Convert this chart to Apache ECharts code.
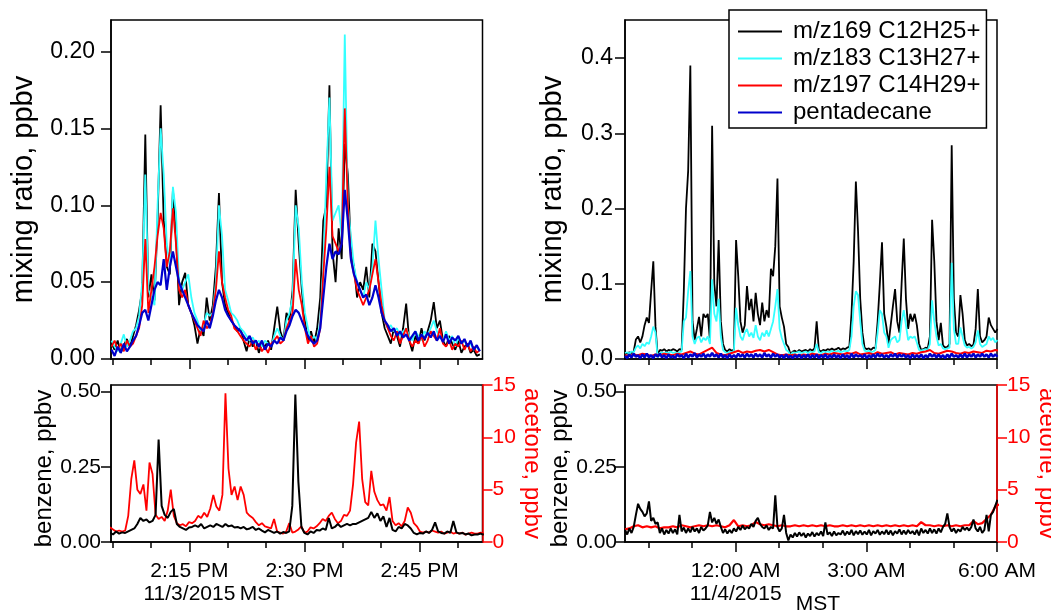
<!DOCTYPE html>
<html><head><meta charset="utf-8">
<script src="https://cdn.jsdelivr.net/npm/echarts@6/dist/echarts.min.js"></script>
<style>html,body{margin:0;padding:0;background:#fff}#c{width:1051px;height:614px}</style>
</head><body><div id="c"></div>
<script>
const FONT = '"Liberation Sans", Arial, Helvetica, sans-serif';
const seriesNames = ['m/z169 C12H25+', 'm/z183 C13H27+', 'm/z197 C14H29+', 'pentadecane'];
const seriesColors = ['#000000', '#33ffff', '#ff0000', '#0000cc'];

// ---------- left panels: minutes after 2:00 PM, 11/3/2015 ----------
const leftStart = 4.85, leftStep = 0.4;
const leftC12 = [
0.010,0.006,0.012,0.004,0.009,0.013,0.008,0.015,0.022,0.032,
0.045,0.146,0.040,0.055,0.038,0.090,0.165,0.090,0.060,0.055,
0.110,0.080,0.035,0.050,0.056,0.035,0.030,0.022,0.010,0.020,
0.015,0.040,0.025,0.035,0.060,0.108,0.050,0.035,0.030,0.025,
0.022,0.018,0.020,0.012,0.005,0.014,0.008,0.012,0.004,0.010,
0.008,0.012,0.006,0.020,0.034,0.018,0.012,0.030,0.025,0.045,
0.110,0.075,0.045,0.025,0.012,0.018,0.010,0.020,0.040,0.090,
0.100,0.178,0.070,0.050,0.085,0.065,0.140,0.120,0.070,0.060,
0.040,0.050,0.045,0.060,0.040,0.075,0.070,0.050,0.030,0.020,
0.015,0.010,0.020,0.015,0.008,0.020,0.036,0.012,0.005,0.015,
0.010,0.020,0.012,0.018,0.025,0.037,0.020,0.025,0.012,0.008,
0.015,0.010,0.006,0.012,0.004,0.008,0.010,0.004,0.006,0.002,0.003];
const leftC13 = [
0.012,0.008,0.005,0.010,0.016,0.008,0.012,0.018,0.020,0.028,
0.050,0.120,0.045,0.040,0.035,0.100,0.150,0.120,0.075,0.060,
0.112,0.095,0.050,0.045,0.050,0.055,0.040,0.030,0.025,0.018,
0.022,0.030,0.028,0.030,0.050,0.100,0.080,0.045,0.038,0.030,
0.028,0.025,0.020,0.018,0.015,0.012,0.014,0.010,0.012,0.008,
0.012,0.010,0.008,0.015,0.020,0.015,0.012,0.025,0.030,0.040,
0.100,0.085,0.050,0.030,0.020,0.012,0.015,0.012,0.025,0.060,
0.120,0.170,0.090,0.095,0.100,0.080,0.211,0.100,0.080,0.060,
0.050,0.045,0.040,0.050,0.045,0.060,0.090,0.065,0.045,0.025,
0.020,0.022,0.018,0.020,0.015,0.018,0.020,0.015,0.012,0.018,
0.015,0.012,0.018,0.015,0.020,0.025,0.018,0.015,0.012,0.018,
0.012,0.015,0.008,0.014,0.010,0.012,0.008,0.010,0.006,0.008,0.005];
const leftC14 = [
0.008,0.012,0.006,0.010,0.005,0.012,0.008,0.010,0.015,0.020,
0.035,0.078,0.030,0.045,0.060,0.080,0.095,0.085,0.060,0.070,
0.098,0.075,0.045,0.040,0.045,0.035,0.030,0.025,0.020,0.015,
0.025,0.020,0.022,0.030,0.045,0.070,0.050,0.040,0.032,0.028,
0.020,0.018,0.015,0.012,0.010,0.008,0.012,0.006,0.010,0.005,
0.008,0.004,0.010,0.012,0.015,0.010,0.012,0.020,0.025,0.030,
0.065,0.045,0.035,0.020,0.010,0.015,0.008,0.010,0.020,0.055,
0.085,0.125,0.080,0.075,0.070,0.075,0.163,0.100,0.065,0.055,
0.045,0.040,0.035,0.040,0.045,0.055,0.065,0.050,0.035,0.025,
0.020,0.015,0.012,0.018,0.010,0.015,0.020,0.012,0.008,0.012,
0.010,0.015,0.008,0.012,0.018,0.015,0.012,0.020,0.010,0.008,
0.012,0.006,0.010,0.008,0.012,0.006,0.010,0.005,0.008,0.004,0.006];
const leftPenta = [
0.006,0.002,0.008,0.004,0.010,0.005,0.008,0.012,0.015,0.022,
0.030,0.032,0.025,0.035,0.045,0.050,0.048,0.065,0.045,0.060,
0.070,0.060,0.050,0.045,0.040,0.035,0.030,0.026,0.022,0.020,
0.018,0.025,0.020,0.028,0.038,0.045,0.040,0.032,0.028,0.025,
0.022,0.020,0.018,0.015,0.012,0.015,0.010,0.012,0.008,0.012,
0.006,0.010,0.008,0.012,0.010,0.014,0.012,0.018,0.022,0.028,
0.032,0.030,0.025,0.020,0.015,0.012,0.010,0.012,0.020,0.040,
0.060,0.075,0.065,0.070,0.068,0.075,0.110,0.090,0.065,0.055,
0.050,0.045,0.040,0.042,0.035,0.040,0.048,0.040,0.030,0.025,
0.022,0.018,0.020,0.015,0.018,0.014,0.016,0.012,0.015,0.018,
0.012,0.016,0.013,0.017,0.014,0.018,0.012,0.015,0.011,0.016,
0.010,0.014,0.012,0.015,0.010,0.013,0.008,0.012,0.006,0.009,0.005];

const benzLeftStart = 4.65, benzLeftStep = 0.396;
const benzeneLeft = [
0.030,0.025,0.035,0.028,0.032,0.030,0.035,0.040,0.045,0.060,
0.080,0.070,0.075,0.065,0.070,0.090,0.340,0.120,0.090,0.080,
0.100,0.110,0.060,0.050,0.045,0.040,0.048,0.050,0.055,0.050,
0.060,0.045,0.050,0.055,0.050,0.060,0.055,0.050,0.060,0.052,
0.055,0.048,0.050,0.045,0.050,0.042,0.045,0.050,0.040,0.045,
0.038,0.032,0.040,0.035,0.030,0.035,0.028,0.033,0.030,0.035,
0.120,0.490,0.200,0.050,0.030,0.025,0.035,0.030,0.040,0.038,
0.045,0.040,0.080,0.045,0.050,0.060,0.050,0.055,0.060,0.055,
0.060,0.060,0.065,0.070,0.075,0.080,0.100,0.080,0.095,0.070,
0.085,0.050,0.080,0.040,0.035,0.050,0.045,0.060,0.055,0.045,
0.030,0.025,0.030,0.028,0.035,0.030,0.040,0.065,0.035,0.030,
0.028,0.035,0.030,0.070,0.032,0.028,0.030,0.025,0.028,0.022,
0.025,0.025,0.028,0.024];
const acetoneLeft = [
1.4,1.2,1.0,1.1,1.0,1.1,2.5,6.0,7.8,5.0,
4.6,5.5,3.0,7.6,6.5,2.6,2.2,2.4,2.0,3.0,
5.0,2.5,1.8,1.6,1.7,1.5,1.9,1.8,2.0,2.5,
2.3,2.8,2.4,3.2,4.5,3.4,3.0,4.5,14.2,7.0,
4.5,5.3,4.0,5.3,4.5,2.8,2.5,2.3,1.9,1.6,
1.8,1.5,1.4,1.3,2.2,1.0,0.9,0.8,1.0,1.8,
0.9,1.0,1.2,1.5,0.9,1.0,1.4,1.3,1.5,1.8,
2.2,2.0,2.5,2.8,2.2,1.8,2.0,2.6,2.5,3.0,
5.5,9.5,11.5,6.0,3.8,3.5,6.8,4.8,4.0,3.5,
3.6,3.0,4.3,2.0,1.6,1.8,1.5,2.0,3.3,2.8,
1.8,1.5,1.0,0.9,1.0,0.9,1.1,1.0,0.9,1.0,
0.8,0.9,1.0,0.8,0.9,0.8,0.9,0.7,0.8,0.9,
0.8,0.8,0.9,0.8];

// ---------- right panels: hours relative to midnight 11/4/2015 ----------
const rightStart = -2.54, rightStep = 0.05, rightCoarseStep = 0.1;
const rightC12 = [
0.008,0.007,0.009,0.008,0.010,0.026,0.030,0.022,0.030,0.045,
0.055,0.048,0.090,0.130,0.043,0.005,0.012,0.011,0.013,0.010,
0.012,0.011,0.013,0.012,0.010,0.013,0.012,0.090,0.200,0.250,
0.390,0.050,0.025,0.040,0.056,0.030,0.060,0.055,0.060,0.025,
0.310,0.100,0.070,0.158,0.050,0.020,0.012,0.010,0.013,0.011,
0.012,0.158,0.110,0.050,0.035,0.045,0.097,0.065,0.080,0.050,
0.088,0.060,0.045,0.075,0.050,0.065,0.055,0.120,0.110,0.150,
0.240,0.070,0.055,0.043,0.020,0.016,0.006,0.010,0.011,0.009,
0.012,0.010,0.011,0.012,0.010,0.013,0.011,0.014,0.050,0.012,
0.010,0.012,0.011,0.013,0.012,0.014,0.012,0.013,0.015,0.012,
0.014,0.013,0.015,0.016,0.060,0.130,0.236,0.170,0.080,0.035,
0.015,0.013,0.014,0.012,0.015,0.014,0.050,0.100,0.155,0.060,
0.043,0.020,0.045,0.070,0.093,0.050,0.035,0.100,0.160,0.080,
0.040,0.060,0.050,0.060,0.045,0.020,0.012,0.013,0.015,0.014,
0.030,0.185,0.130,0.050,0.025,0.048,0.018,0.015,0.016,0.020,
0.284,0.080,0.035,0.030,0.085,0.060,0.025,0.018,0.020,0.017,
0.019,0.040,0.093,0.030,0.022,0.025,0.030,0.055,0.045,0.040,
0.035,0.040];
const rightC13 = [
0.008,0.009,0.007,0.010,0.009,0.015,0.018,0.014,0.020,0.017,
0.022,0.020,0.030,0.043,0.035,0.002,0.008,0.009,0.007,0.009,
0.008,0.010,0.008,0.009,0.007,0.009,0.010,0.050,0.055,0.090,
0.117,0.030,0.020,0.028,0.030,0.022,0.028,0.025,0.030,0.020,
0.106,0.060,0.050,0.080,0.030,0.012,0.009,0.008,0.010,0.009,
0.011,0.068,0.045,0.030,0.025,0.035,0.040,0.030,0.035,0.028,
0.045,0.030,0.025,0.035,0.030,0.038,0.030,0.040,0.050,0.070,
0.093,0.040,0.028,0.020,0.012,0.010,0.004,0.009,0.008,0.009,
0.010,0.008,0.009,0.010,0.008,0.010,0.009,0.010,0.020,0.009,
0.008,0.010,0.009,0.010,0.009,0.011,0.009,0.010,0.011,0.009,
0.010,0.011,0.010,0.012,0.030,0.070,0.090,0.085,0.050,0.020,
0.011,0.010,0.011,0.009,0.010,0.012,0.035,0.065,0.060,0.035,
0.030,0.015,0.025,0.028,0.030,0.022,0.025,0.050,0.065,0.045,
0.025,0.030,0.028,0.030,0.022,0.012,0.011,0.012,0.013,0.012,
0.020,0.078,0.050,0.030,0.018,0.020,0.014,0.013,0.014,0.015,
0.128,0.040,0.020,0.020,0.042,0.030,0.018,0.015,0.016,0.014,
0.016,0.022,0.038,0.020,0.016,0.018,0.020,0.030,0.025,0.028,
0.022,0.025];
const rightC14 = [
0.005,0.004,0.006,0.005,0.007,0.006,0.004,0.006,0.005,0.007,
0.006,0.005,0.007,0.006,0.008,0.010,0.007,0.006,0.009,0.012,
0.015,0.008,0.006,0.005,0.007,0.009,0.011,0.008,0.010,0.009,
0.011,0.012,0.010,0.012,0.009,0.006,0.005,0.006,0.005,0.006,
0.004,0.006,0.005,0.007,0.006,0.005,0.007,0.006,0.008,0.007,
0.006,0.008,0.007,0.009,0.006,0.007,0.008,0.006,0.009,0.007,
0.008,0.009,0.006,0.008,0.007,0.006,0.008,0.007,0.009,0.010,
0.012,0.008,0.007,0.009,0.011,0.010,0.008,0.007,0.009,0.008,
0.010,0.009,0.008,0.011,0.010,0.012,0.011];
const rightPenta = [
0.004,0.001,0.006,0.002,0.007,0.003,0.005,0.001,0.006,0.002,
0.007,0.002,0.005,0.001,0.006,0.003,0.007,0.002,0.005,0.001,
0.006,0.002,0.004,0.001,0.006,0.003,0.005,0.001,0.007,0.002,
0.006,0.003,0.008,0.002,0.006,0.003,0.007,0.002,0.006,0.003,
0.008,0.003,0.006,0.002,0.007,0.002,0.005,0.001,0.006,0.002,
0.005,0.002,0.007,0.003,0.006,0.002,0.007,0.003,0.006,0.002,
0.007,0.003,0.006,0.002,0.008,0.003,0.006,0.002,0.007,0.003,
0.006,0.002,0.005,0.001,0.006,0.002,0.004,0.001,0.005,0.002,
0.006,0.001,0.005,0.002,0.006,0.001,0.005,0.002,0.006,0.001,
0.005,0.002,0.006,0.001,0.005,0.002,0.006,0.002,0.005,0.001,
0.006,0.002,0.005,0.001,0.007,0.002,0.006,0.003,0.005,0.002,
0.006,0.001,0.005,0.002,0.006,0.002,0.007,0.003,0.006,0.002,
0.005,0.002,0.006,0.003,0.007,0.002,0.006,0.003,0.006,0.002,
0.005,0.001,0.006,0.002,0.005,0.002,0.006,0.001,0.005,0.002,
0.007,0.003,0.006,0.002,0.006,0.002,0.005,0.001,0.006,0.002,
0.007,0.003,0.005,0.002,0.006,0.002,0.007,0.002,0.006,0.003,
0.007,0.002,0.006,0.003,0.007,0.003,0.006,0.002,0.007,0.003,
0.006,0.003];
const benzeneRight = [
0.040,0.025,0.045,0.030,0.050,0.090,0.127,0.110,0.100,0.085,
0.095,0.135,0.070,0.080,0.060,0.065,0.030,0.045,0.025,0.040,
0.028,0.045,0.030,0.042,0.025,0.090,0.035,0.048,0.030,0.045,
0.032,0.050,0.035,0.045,0.030,0.050,0.038,0.045,0.055,0.100,
0.065,0.080,0.060,0.075,0.050,0.030,0.042,0.028,0.040,0.030,
0.045,0.035,0.050,0.040,0.055,0.042,0.050,0.045,0.060,0.050,
0.070,0.080,0.060,0.050,0.045,0.055,0.040,0.050,0.045,0.155,
0.050,0.035,0.045,0.090,0.030,0.005,0.025,0.015,0.030,0.018,
0.032,0.020,0.030,0.015,0.028,0.020,0.033,0.018,0.030,0.022,
0.035,0.020,0.065,0.025,0.032,0.020,0.035,0.022,0.030,0.025,
0.038,0.022,0.035,0.025,0.040,0.022,0.036,0.026,0.038,0.024,
0.035,0.025,0.040,0.022,0.036,0.028,0.040,0.024,0.035,0.026,
0.040,0.025,0.038,0.022,0.036,0.028,0.042,0.025,0.038,0.026,
0.040,0.028,0.036,0.025,0.040,0.022,0.045,0.030,0.040,0.028,
0.045,0.030,0.042,0.028,0.045,0.032,0.050,0.060,0.095,0.050,
0.035,0.045,0.030,0.042,0.035,0.050,0.040,0.048,0.038,0.050,
0.075,0.045,0.035,0.050,0.030,0.040,0.090,0.035,0.090,0.100,
0.120,0.140];
const acetoneRight = [
1.2,1.3,1.5,1.6,1.4,1.5,1.4,1.5,1.3,1.4,
1.4,1.5,1.4,1.6,1.5,1.4,1.5,1.6,1.5,1.6,
1.5,1.6,1.5,1.4,1.6,2.1,1.5,1.6,1.5,1.6,
1.9,1.7,1.6,1.7,1.6,1.5,1.6,1.5,1.5,1.6,
1.5,1.6,1.5,1.6,1.5,1.6,1.5,1.6,1.5,1.5,
1.6,1.5,1.6,1.5,1.6,1.5,1.6,1.5,1.6,1.5,
1.6,1.5,1.6,1.5,1.6,1.5,1.6,1.5,1.9,1.6,
1.6,1.5,1.6,1.5,1.6,1.5,1.6,1.5,1.6,1.6,
2.0,1.7,1.8,2.2,2.6,3.4,3.6];

// ---------- axes: ranges and tick labels ----------
const leftRange = [4.78, 53.2];
const rightRange = [-2.54, 6.0];
const leftMajor = [15, 30, 45];
const leftMinor = [5, 10, 20, 25, 35, 40, 50];
const leftTickLabels = ['2:15 PM\n11/3/2015', '2:30 PM', '2:45 PM'];
const rightMajor = [0, 3, 6];
const rightMinor = [-2, -1, 1, 2, 4, 5];
const rightTickLabels = ['12:00 AM\n11/4/2015', '3:00 AM', '6:00 AM'];
const mixLeftTicks = [0, 0.05, 0.10, 0.15, 0.20];
const mixRightTicks = [0, 0.1, 0.2, 0.3, 0.4];
const benzTicks = [0, 0.25, 0.5];
const acetTicks = [0, 5, 10, 15];

// ---------- option ----------
function xy(start, step, vals) { return vals.map((v, i) => [start + step * i, v]); }
const blackLine = { color: '#000', width: 1.5 };
function xAxes(g, range, major, minor, labels) {
  return [{
    type: 'value', gridIndex: g, position: 'bottom', min: range[0], max: range[1],
    axisLine: { show: true, onZero: false, lineStyle: blackLine },
    axisTick: { show: true, length: 10, customValues: major, lineStyle: blackLine },
    axisLabel: labels ? { show: true, customValues: major, formatter: v => labels[major.indexOf(v)],
      fontSize: 21, fontFamily: FONT, color: '#000', margin: 18, lineHeight: 23 } : { show: false },
    splitLine: { show: false }
  }, {
    type: 'value', gridIndex: g, position: 'bottom', min: range[0], max: range[1],
    axisLine: { show: false, onZero: false },
    axisTick: { show: true, length: 6, customValues: minor, lineStyle: blackLine },
    axisLabel: { show: false }, splitLine: { show: false }
  }];
}
function yAxis(g, pos, max, ticks, digits, name, gap, rot, color, fs, nfs, margin, npad) {
  const ls = { color: color, width: 1.5 };
  return {
    type: 'value', gridIndex: g, position: pos, min: 0, max: max,
    axisLine: { show: true, onZero: false, lineStyle: ls },
    axisTick: { show: true, length: 10, customValues: ticks, lineStyle: ls },
    axisLabel: { customValues: ticks, formatter: v => v.toFixed(digits), fontSize: fs, fontFamily: FONT, color: color, margin: margin },
    splitLine: { show: false },
    name: name, nameLocation: 'middle', nameGap: gap, nameRotate: rot,
    nameTextStyle: { fontSize: nfs, fontFamily: FONT, color: color, padding: npad || 0 }
  };
}
function line(name, color, width, xi, yi, data) {
  return { type: 'line', name: name, xAxisIndex: xi, yAxisIndex: yi, data: data, symbol: 'none', showSymbol: false,
    lineStyle: { color: color, width: width }, itemStyle: { color: color }, silent: true, animation: false, z: 2 };
}
const gridBase = { show: true, borderColor: '#000', borderWidth: 1.5, backgroundColor: 'transparent', containLabel: false, outerBoundsMode: 'none' };

const option = {
  animation: false,
  backgroundColor: '#fff',
  textStyle: { fontFamily: FONT },
  grid: [
    Object.assign({ left: 111, top: 20, width: 371.5, height: 339 }, gridBase),
    Object.assign({ left: 625, top: 20, width: 372, height: 339 }, gridBase),
    Object.assign({ left: 111, top: 385, width: 371.5, height: 157 }, gridBase),
    Object.assign({ left: 625, top: 385, width: 372, height: 157 }, gridBase)
  ],
  xAxis: [].concat(
    xAxes(0, leftRange, leftMajor, leftMinor, null),
    xAxes(1, rightRange, rightMajor, rightMinor, null),
    xAxes(2, leftRange, leftMajor, leftMinor, leftTickLabels),
    xAxes(3, rightRange, rightMajor, rightMinor, rightTickLabels)
  ),
  yAxis: [
    yAxis(0, 'left', 0.2205, mixLeftTicks, 2, 'mixing ratio, ppbv', 73, 90, '#000', 23, 29, 16),
    yAxis(1, 'left', 0.4506, mixRightTicks, 1, 'mixing ratio, ppbv', 58, 90, '#000', 23, 29, 12),
    yAxis(2, 'left', 0.5216, benzTicks, 2, 'benzene, ppbv', 54, 90, '#000', 21, 24, 10, [0, 10, 0, 0]),
    yAxis(2, 'right', 15, acetTicks, 0, 'acetone, ppbv', 25, -90, '#ff0000', 21, 24, 10),
    yAxis(3, 'left', 0.5216, benzTicks, 2, 'benzene, ppbv', 49, 90, '#000', 21, 24, 8, [0, 10, 0, 0]),
    yAxis(3, 'right', 15, acetTicks, 0, 'acetone, ppbv', 26, -90, '#ff0000', 21, 24, 10)
  ],
  legend: {
    data: seriesNames, orient: 'vertical', left: 729, top: 10, selectedMode: false,
    backgroundColor: '#fff', borderColor: '#000', borderWidth: 1.5, borderRadius: 0,
    padding: [8, 6, 2, 9], itemWidth: 44, itemHeight: 2, itemGap: 0, icon: 'rect',
    textStyle: { fontSize: 24, lineHeight: 27, fontFamily: FONT, color: '#000', padding: [0, 0, 0, 6] },
    z: 10
  },
  graphic: [
    { type: 'text', x: 262, y: 594, silent: true, style: { text: 'MST', fontSize: 21, fontFamily: FONT, fill: '#000', align: 'center', verticalAlign: 'middle' } },
    { type: 'text', x: 818, y: 604, silent: true, style: { text: 'MST', fontSize: 21, fontFamily: FONT, fill: '#000', align: 'center', verticalAlign: 'middle' } }
  ],
  series: [
    line(seriesNames[0], seriesColors[0], 1.8, 0, 0, xy(leftStart, leftStep, leftC12)),
    line(seriesNames[1], seriesColors[1], 1.8, 0, 0, xy(leftStart, leftStep, leftC13)),
    line(seriesNames[2], seriesColors[2], 1.8, 0, 0, xy(leftStart, leftStep, leftC14)),
    line(seriesNames[3], seriesColors[3], 2.2, 0, 0, xy(leftStart, leftStep, leftPenta)),
    line(seriesNames[0], seriesColors[0], 1.8, 2, 1, xy(rightStart, rightStep, rightC12)),
    line(seriesNames[1], seriesColors[1], 1.8, 2, 1, xy(rightStart, rightStep, rightC13)),
    line(seriesNames[2], seriesColors[2], 2, 2, 1, xy(rightStart, rightCoarseStep, rightC14)),
    line(seriesNames[3], seriesColors[3], 2.5, 2, 1, xy(rightStart, rightStep, rightPenta)),
    line('acetone', '#ff0000', 1.8, 4, 3, xy(benzLeftStart, benzLeftStep, acetoneLeft)),
    line('benzene', '#000000', 2, 4, 2, xy(benzLeftStart, benzLeftStep, benzeneLeft)),
    line('acetone', '#ff0000', 2.2, 6, 5, xy(rightStart, rightCoarseStep, acetoneRight)),
    line('benzene', '#000000', 2, 6, 4, xy(rightStart, rightStep, benzeneRight))
  ]
};
const chart = echarts.init(document.getElementById('c'), null, { renderer: 'canvas' });
chart.setOption(option);
</script>
</body></html>
